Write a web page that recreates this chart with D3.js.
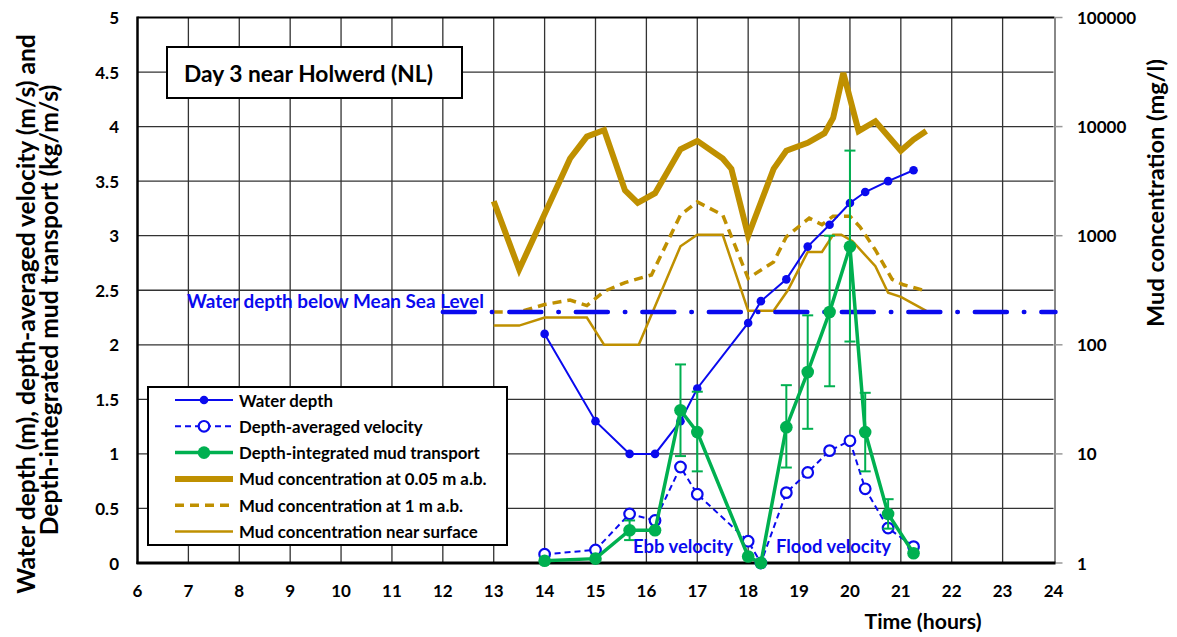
<!DOCTYPE html>
<html><head><meta charset="utf-8">
<script src="https://cdn.jsdelivr.net/npm/d3@7"></script>
<style>
html,body{margin:0;padding:0;background:#fff;}
text{font-family:Lato,"Open Sans",sans-serif;font-weight:bold;}
</style></head>
<body><svg id="c" width="1177" height="637"></svg>
<script>
// ---- data ----
const xTicks = [6,7,8,9,10,11,12,13,14,15,16,17,18,19,20,21,22,23,24];
const yTicks = [0,0.5,1,1.5,2,2.5,3,3.5,4,4.5,5];
const yTickLabels = ["0","0.5","1","1.5","2","2.5","3","3.5","4","4.5","5"];
const rTicks = [1,10,100,1000,10000,100000];
const rTickLabels = ["1","10","100","1000","10000","100000"];

const times = [14, 15, 15.67, 16.17, 16.67, 17, 18, 18.25, 18.75, 19.17, 19.6, 20, 20.3, 20.75, 21.25];
const waterDepth = [2.1, 1.3, 1.0, 1.0, 1.3, 1.6, 2.2, 2.4, 2.6, 2.9, 3.1, 3.3, 3.4, 3.5, 3.6];
const velocity = [0.08, 0.12, 0.45, 0.39, 0.88, 0.63, 0.20, 0.0, 0.645, 0.83, 1.03, 1.12, 0.68, 0.32, 0.15];
const mudTransport = [0.02, 0.04, 0.30, 0.30, 1.40, 1.20, 0.06, 0.0, 1.245, 1.75, 2.30, 2.90, 1.20, 0.45, 0.09];

const errTimes = [15.67, 16.67, 17, 18.75, 19.17, 19.6, 20, 20.3, 20.75];
const errLow = [0.21, 0.98, 0.84, 0.875, 1.23, 1.62, 2.03, 0.84, 0.315];
const errHigh = [0.39, 1.82, 1.57, 1.63, 2.27, 3.0, 3.78, 1.56, 0.585];

const concBedTimes = [13, 13.5, 14.5, 14.83, 15.17, 15.58, 15.83, 16.17, 16.67, 17, 17.5, 17.67, 18, 18.5, 18.75, 19.17, 19.5, 19.67, 19.87, 20.17, 20.5, 21, 21.25, 21.5];
const concBed = [2070, 490, 5100, 8100, 9300, 2600, 2000, 2450, 6200, 7400, 5100, 4100, 1000, 4100, 6000, 7100, 8700, 12000, 31000, 9100, 11200, 6000, 7600, 9100];

const conc1mTimes = [13, 13.5, 14, 14.5, 14.83, 15.17, 15.58, 16.1, 16.67, 17, 17.5, 18, 18.5, 18.75, 19.2, 19.45, 19.67, 20, 20.2, 20.5, 20.83, 21.05, 21.45];
const conc1m = [200, 200, 234, 257, 229, 309, 372, 437, 1550, 2040, 1550, 407, 575, 977, 1450, 1260, 1510, 1510, 1200, 740, 398, 355, 316];

const concSurfTimes = [13, 13.5, 14, 14.83, 15.17, 15.85, 16.67, 17, 17.5, 18, 18.5, 18.78, 19.17, 19.45, 19.67, 19.83, 20.05, 20.5, 20.75, 21, 21.5];
const concSurf = [150, 150, 178, 178, 100, 100, 800, 1020, 1020, 205, 205, 316, 710, 710, 1020, 1020, 890, 525, 300, 275, 205];

const msl = {level: 2.3, from: 12, to: 24};

const legendLabels = ["Water depth","Depth-averaged velocity","Depth-integrated mud transport","Mud concentration at 0.05 m a.b.","Mud concentration at 1 m a.b.","Mud concentration near surface"];

// ---- drawing ----
const BLUE = "#0a0aee", GREEN = "#00b050", GOLD = "#bf9000";
const svg = d3.select("#c");
const x = d3.scaleLinear().domain([6,24]).range([137.5,1053.5]);
const y = d3.scaleLinear().domain([0,5]).range([563,17.5]);
const yr = d3.scaleLog().domain([1,100000]).range([563,17.5]);

function fit(sel, target){
  const n = sel.node(); const fs = parseFloat(sel.attr("font-size"));
  const w = n.getComputedTextLength();
  sel.attr("font-size", (fs*target/w).toFixed(2));
}

// grid
const g = svg.append("g");
g.selectAll(".vg").data(xTicks.slice(1,-1)).join("line")
 .attr("x1",d=>x(d)).attr("x2",d=>x(d)).attr("y1",y(0)).attr("y2",y(5))
 .attr("stroke","#333").attr("stroke-width",1.3);
g.selectAll(".hg").data(yTicks.slice(1,-1)).join("line")
 .attr("x1",x(6)).attr("x2",x(24)).attr("y1",d=>y(d)).attr("y2",d=>y(d))
 .attr("stroke","#333").attr("stroke-width",1.3);
// frame
g.append("line").attr("x1",x(6)).attr("x2",x(24)+1).attr("y1",y(5)).attr("y2",y(5)).attr("stroke","#000").attr("stroke-width",2);
g.append("line").attr("x1",x(24)+1.5).attr("x2",x(24)+1.5).attr("y1",y(5)).attr("y2",y(0)).attr("stroke","#888").attr("stroke-width",2);
g.selectAll(".rt").data(rTicks).join("line")
 .attr("x1",x(24)+1.5).attr("x2",x(24)+9).attr("y1",d=>yr(d)).attr("y2",d=>yr(d)).attr("stroke","#999").attr("stroke-width",1.5);
g.append("line").attr("x1",x(6)).attr("x2",x(6)).attr("y1",y(5)-1).attr("y2",y(0)+1).attr("stroke","#000").attr("stroke-width",2.5);
g.append("line").attr("x1",x(6)-1).attr("x2",x(24)+2).attr("y1",y(0)).attr("y2",y(0)).attr("stroke","#000").attr("stroke-width",3);

// tick labels
svg.selectAll(".xl").data(xTicks).join("text").attr("x",d=>x(d)).attr("y",590)
 .attr("text-anchor","middle").attr("dominant-baseline","central").attr("font-size",17).text(d=>d);
svg.selectAll(".yl").data(yTicks).join("text").attr("x",119).attr("y",d=>y(d))
 .attr("text-anchor","end").attr("dominant-baseline","central").attr("font-size",17).text((d,i)=>yTickLabels[i]);
svg.selectAll(".rl").data(rTicks).join("text").attr("x",1077).attr("y",d=>yr(d))
 .attr("text-anchor","start").attr("dominant-baseline","central").attr("font-size",17).text((d,i)=>rTickLabels[i]);

// axis titles
const lt1 = svg.append("text").attr("transform","translate(25,314) rotate(-90)").attr("text-anchor","middle")
 .attr("dominant-baseline","central").attr("font-size",18).text("Water depth (m), depth-averaged velocity (m/s) and");
fit(lt1,560);
const lt2 = svg.append("text").attr("transform","translate(48,310) rotate(-90)").attr("text-anchor","middle")
 .attr("dominant-baseline","central").attr("font-size",+lt1.attr("font-size")).text("Depth-integrated mud transport (kg/m/s)");
const rt = svg.append("text").attr("transform","translate(1155,193) rotate(-90)").attr("text-anchor","middle")
 .attr("dominant-baseline","central").attr("font-size",18).text("Mud concentration (mg/l)");
fit(rt,268);
const xt = svg.append("text").attr("x",923).attr("y",621).attr("text-anchor","middle")
 .attr("dominant-baseline","central").attr("font-size",18).text("Time (hours)");
fit(xt,117);

// concentration lines
const lc = (tt)=>d3.line().x((d,i)=>x(tt[i])).y(d=>yr(d));
svg.append("path").attr("d",lc(concSurfTimes)(concSurf)).attr("fill","none").attr("stroke",GOLD).attr("stroke-width",2.5);
svg.append("path").attr("d",lc(conc1mTimes)(conc1m)).attr("fill","none").attr("stroke",GOLD).attr("stroke-width",3.5).attr("stroke-dasharray","9,6");
svg.append("path").attr("d",lc(concBedTimes)(concBed)).attr("fill","none").attr("stroke",GOLD).attr("stroke-width",6).attr("stroke-linejoin","miter");

// MSL line
svg.append("line").attr("x1",x(msl.from)).attr("x2",x(msl.to)+2).attr("y1",y(msl.level)).attr("y2",y(msl.level))
 .attr("stroke",BLUE).attr("stroke-width",4.5).attr("stroke-linecap","round").attr("stroke-dasharray","32,17,0.5,17");
const mslT = svg.append("text").attr("x",187).attr("y",300).attr("dominant-baseline","central").attr("fill",BLUE)
 .attr("font-size",16).text("Water depth below Mean Sea Level");
fit(mslT,297);

// water depth
const lv = d3.line().x((d,i)=>x(times[i])).y(d=>y(d));
svg.append("path").attr("d",lv(waterDepth)).attr("fill","none").attr("stroke",BLUE).attr("stroke-width",2);
svg.selectAll(".wd").data(waterDepth).join("circle").attr("cx",(d,i)=>x(times[i])).attr("cy",d=>y(d)).attr("r",4.3).attr("fill",BLUE);

// velocity
svg.append("path").attr("d",lv(velocity)).attr("fill","none").attr("stroke",BLUE).attr("stroke-width",2).attr("stroke-dasharray","6,4");
svg.selectAll(".ve").data(velocity).join("circle").attr("cx",(d,i)=>x(times[i])).attr("cy",d=>y(d)).attr("r",5.3)
 .attr("fill","#fff").attr("stroke",BLUE).attr("stroke-width",2.2);

// error bars
const eb = svg.append("g").attr("stroke",GREEN).attr("stroke-width",2);
errTimes.forEach((t,i)=>{
  eb.append("line").attr("x1",x(t)).attr("x2",x(t)).attr("y1",y(errLow[i])).attr("y2",y(errHigh[i]));
  [errLow[i],errHigh[i]].forEach(v=>eb.append("line").attr("x1",x(t)-5.5).attr("x2",x(t)+5.5).attr("y1",y(v)).attr("y2",y(v)));
});
// mud transport
svg.append("path").attr("d",lv(mudTransport)).attr("fill","none").attr("stroke",GREEN).attr("stroke-width",3.5);
svg.selectAll(".mt").data(mudTransport).join("circle").attr("cx",(d,i)=>x(times[i])).attr("cy",d=>y(d)).attr("r",6.3).attr("fill",GREEN);

// annotations
const ebb = svg.append("text").attr("x",633).attr("y",546).attr("dominant-baseline","central").attr("fill",BLUE).attr("font-size",16).text("Ebb velocity");
fit(ebb,100);
const fl = svg.append("text").attr("x",776).attr("y",546).attr("dominant-baseline","central").attr("fill",BLUE).attr("font-size",16).text("Flood velocity");
fit(fl,115);

// title box
svg.append("rect").attr("x",167).attr("y",47).attr("width",295).attr("height",51).attr("fill","#fff").attr("stroke","#000").attr("stroke-width",2);
const tt = svg.append("text").attr("x",184).attr("y",73).attr("dominant-baseline","central").attr("font-size",18).text("Day 3 near Holwerd (NL)");
fit(tt,249);

// legend
const lg = svg.append("g");
lg.append("rect").attr("x",148).attr("y",387).attr("width",359).attr("height",158).attr("fill","#fff").attr("stroke","#000").attr("stroke-width",2);
const rowY = i => 400 + i*26.3;
const styles = [
 {c:BLUE,w:2,dash:null,m:"fill",r:4.3},
 {c:BLUE,w:2,dash:"6,4",m:"open",r:5.3},
 {c:GREEN,w:3.5,dash:null,m:"fill",r:6.3},
 {c:GOLD,w:6,dash:null,m:null},
 {c:GOLD,w:3.5,dash:"9,6",m:null},
 {c:GOLD,w:2.5,dash:null,m:null}];
styles.forEach((s,i)=>{
  const l = lg.append("line").attr("x1",175).attr("x2",233).attr("y1",rowY(i)).attr("y2",rowY(i)).attr("stroke",s.c).attr("stroke-width",s.w);
  if(s.dash) l.attr("stroke-dasharray",s.dash);
  if(s.m==="fill") lg.append("circle").attr("cx",204).attr("cy",rowY(i)).attr("r",s.r).attr("fill",s.c);
  if(s.m==="open") lg.append("circle").attr("cx",204).attr("cy",rowY(i)).attr("r",s.r).attr("fill","#fff").attr("stroke",s.c).attr("stroke-width",2.2);
});
const lts = lg.selectAll(".lt").data(legendLabels).join("text").attr("x",239).attr("y",(d,i)=>rowY(i))
 .attr("dominant-baseline","central").attr("font-size",15).text(d=>d);
const ref = lts.filter((d,i)=>i===2);
const w0 = ref.node().getComputedTextLength();
lts.attr("font-size",(15*241/w0).toFixed(2));
</script></body></html>
